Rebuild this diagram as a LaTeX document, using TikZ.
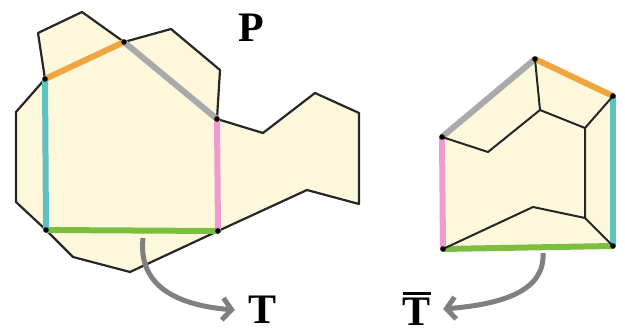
\documentclass[tikz,border=0pt]{standalone}
\usepackage{fontspec}
\setmainfont{Liberation Serif}
\usetikzlibrary{arrows.meta}

\definecolor{polyfill}{HTML}{FDF8DC}
\definecolor{cOrange}{HTML}{F0A540}
\definecolor{cGray}{HTML}{AAAAAA}
\definecolor{cPink}{HTML}{F09ACF}
\definecolor{cGreen}{HTML}{7DBD3F}
\definecolor{cCyan}{HTML}{5EC1C2}
\definecolor{arrowgray}{HTML}{808080}

\newcommand{\barred}[1]{{\setbox0\hbox{#1}\vbox{\hrule height 3pt width \wd0\kern 3pt\box0}}}

\tikzset{
  poly/.style={fill=polyfill,draw=black!85,line width=2.2pt,line join=round},
  cut/.style={line width=6pt},
  inner/.style={draw=black!85,line width=2pt,line join=round},
  vert/.style={fill=black,draw=none},
  curvearrow/.style={draw=arrowgray,line width=5pt,-{Straight Barb[length=9pt,width=22pt]}},
  lab/.style={font=\fontsize{42}{42}\selectfont\bfseries,inner sep=0pt}
}

\begin{document}
\begin{tikzpicture}[x=1pt,y=-1pt]
    \useasboundingbox (0,0) rectangle (625,336);

    % polygon P
    \coordinate (a) at (45,79);
    \coordinate (b) at (124,42);
    \coordinate (c) at (217,119);
    \coordinate (d) at (218,231);
    \coordinate (e) at (46,230);
    \draw[poly] (38,33) -- (82,12) -- (b) -- (171,29) -- (220,70) -- (c)
      -- (263,133) -- (315,93) -- (359,113) -- (359,204) -- (307,190) -- (d)
      -- (130,272) -- (73,257) -- (e) -- (16,202) -- (16,112) -- (a) -- cycle;
    \draw[cut,cOrange] (a) -- (b);
    \draw[cut,cGray] (b) -- (c);
    \draw[cut,cPink] (c) -- (d);
    \draw[cut,cGreen] (e) -- (d);
    \draw[cut,cCyan] (a) -- (e);
    \foreach \v in {a,b,c,d,e} \fill[vert] (\v) circle (2.8);

    % polygon T-bar
    \coordinate (ta) at (535,59);
    \coordinate (tb) at (613,96);
    \coordinate (tc) at (613,246);
    \coordinate (td) at (443,249);
    \coordinate (te) at (442,137);
    \fill[polyfill] (ta) -- (tb) -- (tc) -- (td) -- (te) -- cycle;
    \draw[cut,cGray] (te) -- (ta);
    \draw[cut,cOrange] (ta) -- (tb);
    \draw[cut,cCyan] (tb) -- (tc);
    \draw[cut,cGreen] (td) -- (tc);
    \draw[cut,cPink] (te) -- (td);
    \coordinate (s1) at (540,110);
    \coordinate (s2) at (585,128);
    \coordinate (s3) at (488,152);
    \coordinate (s4) at (585,218);
    \coordinate (s5) at (533,207);
    \draw[inner] (ta) -- (s1) -- (s2) -- (tb);
    \draw[inner] (s1) -- (s3) -- (te);
    \draw[inner] (s2) -- (s4) -- (tc);
    \draw[inner] (s4) -- (s5) -- (td);
    \foreach \v in {ta,tb,tc,td,te} \fill[vert] (\v) circle (2.8);

    % labels
    \node[lab] (P) at (251,28) {P};
    \node[lab] (T) at (263,310) {T};
    \node[lab] (Tbar) at (417,309) {\barred{T}};

    % arrows
    \coordinate (from1) at (143,238);
    \coordinate (from2) at (543,253);
    \draw[curvearrow] (from1) .. controls (138,285) and (175,305) .. ([xshift=-14pt]T.west);
    \draw[curvearrow] (from2) .. controls (545,290) and (505,304) .. ([xshift=12pt]Tbar.east);
\end{tikzpicture}
\end{document}
